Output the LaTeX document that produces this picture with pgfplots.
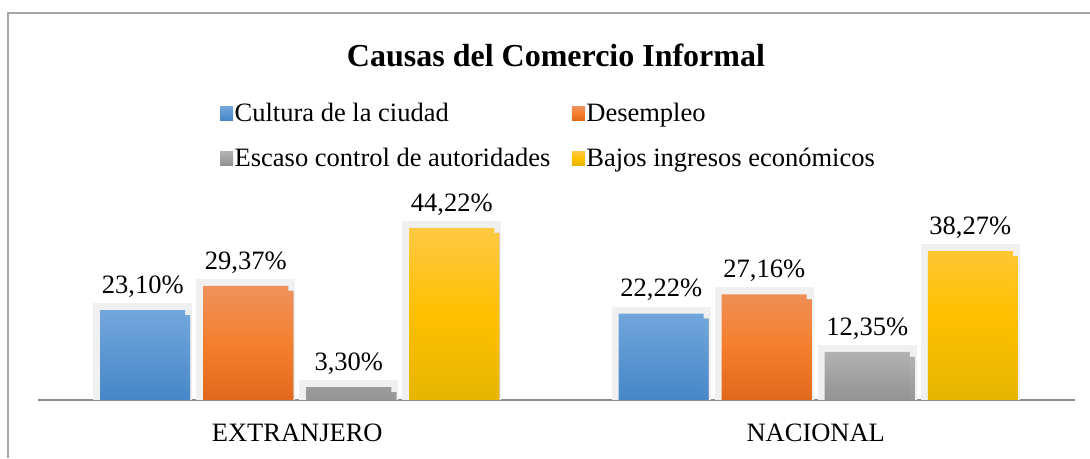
\documentclass[border=0pt]{standalone}
\usepackage{fontspec}
\setmainfont{Liberation Serif}
\usepackage{pgfplots}
\pgfplotsset{compat=1.18}
\usetikzlibrary{shadows}

\definecolor{blueT}{HTML}{72A7DC}
\definecolor{blueB}{HTML}{4686C8}
\definecolor{orangeT}{HTML}{F0915C}
\definecolor{orangeM}{HTML}{F47F2E}
\definecolor{orangeB}{HTML}{E0681B}
\definecolor{grayT}{HTML}{B2B2B2}
\definecolor{grayB}{HTML}{939393}
\definecolor{yellowT}{HTML}{FFC843}
\definecolor{yellowM}{HTML}{FFC000}
\definecolor{yellowB}{HTML}{E6B500}

\pgfplotsset{
  barfx/.style={
    preaction={draw=black!6, line width=14pt},
    drop shadow={shadow xshift=5pt, shadow yshift=-5pt, fill=black!38, opacity=1},
  }
}

\begin{document}
\begin{tikzpicture}
\path[use as bounding box] (0,0) rectangle (1090pt,458pt);
\draw[gray!70, line width=1.2pt] (8pt,0) -- (8pt,445pt) -- (1090pt,445pt);
\node[font=\fontsize{32}{38}\selectfont\bfseries] at (556pt,403pt) {Causas del Comercio Informal};
\begin{axis}[
  at={(38pt,58pt)}, anchor=south west,
  scale only axis, width=1037pt, height=194.5pt,
  ymin=0, ymax=50, xmin=-0.5, xmax=1.5,
  axis y line=none, axis x line=bottom,
  x axis line style={-, draw=black!45, line width=1.3pt},
  xtick={0,1}, xticklabels={EXTRANJERO,NACIONAL},
  major tick length=0pt,
  ybar, bar width=85pt,
  ticklabel style={font=\fontsize{26.5}{32}\selectfont},
  xticklabel style={yshift=-20pt},
  nodes near coords={\pgfmathprintnumber[fixed,fixed zerofill,precision=2,use comma,assume math mode=true]{\pgfplotspointmeta}\%},
  every node near coord/.append style={font=\fontsize{26.5}{32}\selectfont, text=black, yshift=9pt},
  legend columns=2,
  legend cell align=left,
  legend image code/.code={\path[#1] (0pt,-7pt) rectangle (13pt,7pt);},
  legend style={
    at={(rel axis cs:0.1755,1.534)}, anchor=north west,
    draw=none, fill=none, inner sep=0pt,
    font=\fontsize{26.5}{32}\selectfont,
    nodes={inner sep=1.5pt},
    row sep=22pt,
    /tikz/every even column/.append style={column sep=20pt},
  },
]
\addlegendimage{draw=none, top color=blueT, bottom color=blueB}
\addlegendentry{Cultura de la ciudad}
\addlegendimage{draw=none, top color=orangeT, bottom color=orangeB, middle color=orangeM}
\addlegendentry{Desempleo}
\addlegendimage{draw=none, top color=grayT, bottom color=grayB}
\addlegendentry{Escaso control de autoridades}
\addlegendimage{draw=none, top color=yellowT, bottom color=yellowB, middle color=yellowM}
\addlegendentry{Bajos ingresos económicos}

\addplot[forget plot, bar shift=-154.5pt, draw=none, barfx, top color=blueT, bottom color=blueB]
  coordinates {(0,23.10) (1,22.22)};
\addplot[forget plot, bar shift=-51.5pt, draw=none, barfx, top color=orangeT, bottom color=orangeB, middle color=orangeM]
  coordinates {(0,29.37) (1,27.16)};
\addplot[forget plot, bar shift=51.5pt, draw=none, barfx, top color=grayT, bottom color=grayB]
  coordinates {(0,3.30) (1,12.35)};
\addplot[forget plot, bar shift=154.5pt, draw=none, barfx, top color=yellowT, bottom color=yellowB, middle color=yellowM]
  coordinates {(0,44.22) (1,38.27)};
\end{axis}
\end{tikzpicture}
\end{document}
